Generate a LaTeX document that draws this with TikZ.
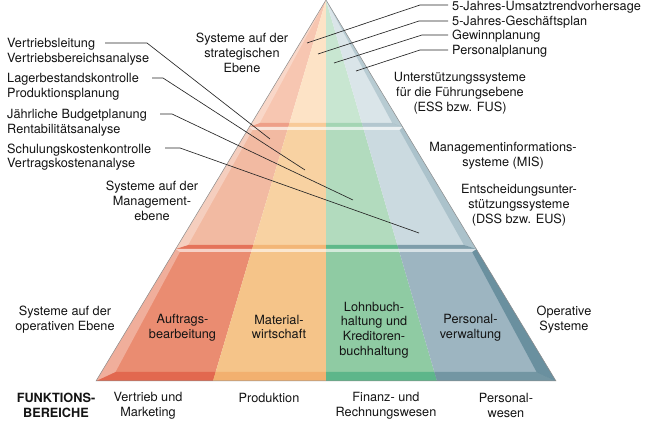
\documentclass[tikz,border=0pt]{standalone}
\usepackage{fontspec}
\setmainfont{TeX Gyre Heros}
\definecolor{sR}{HTML}{F7C6B1}
\definecolor{sO}{HTML}{FDE3C6}
\definecolor{sG}{HTML}{C8E6D1}
\definecolor{sB}{HTML}{DAE5E9}
\definecolor{sRd}{HTML}{EE9F88}
\definecolor{sOd}{HTML}{F8CA98}
\definecolor{sGd}{HTML}{A3D5B3}
\definecolor{sBd}{HTML}{B3C7CF}
\definecolor{mR}{HTML}{F2BAA2}
\definecolor{mO}{HTML}{F8D2A2}
\definecolor{mG}{HTML}{B2DBBE}
\definecolor{mB}{HTML}{CBDAE0}
\definecolor{mRd}{HTML}{E5735A}
\definecolor{mOd}{HTML}{F3B677}
\definecolor{mGd}{HTML}{5FB98A}
\definecolor{mBd}{HTML}{7E9DAA}
\definecolor{oR}{HTML}{EA8C71}
\definecolor{oO}{HTML}{F5C489}
\definecolor{oG}{HTML}{8FCBA3}
\definecolor{oB}{HTML}{9DB5C1}
\definecolor{oRd}{HTML}{E2684F}
\definecolor{oOd}{HTML}{F2B06F}
\definecolor{oGd}{HTML}{5DB68A}
\definecolor{oBd}{HTML}{7396A3}
\definecolor{bev}{HTML}{2E6577}
\definecolor{txt}{HTML}{141414}
\newcommand\lblfont{\fontsize{12.7}{14.8}\selectfont}
% #1 yt, #2 yb, #3 top highlight, #4 bottom strip, #5 bevel top, #6 bevel bottom, #7 prefix, #8 shade opacity
\newcommand\pyrlevel[8]{%
  \pgfmathsetmacro\pLoTLx{326-0.60367*#1}%
  \pgfmathsetmacro\pLoTRx{326+0.60367*#1}%
  \pgfmathsetmacro\pLyi{#1+#3}%
  \pgfmathsetmacro\pLiTLx{326-0.60367*\pLyi+#5}%
  \pgfmathsetmacro\pLiTRx{326+0.60367*\pLyi-#5}%
  \pgfmathsetmacro\pLyj{#2-#4}%
  \pgfmathsetmacro\pLiBLx{326-0.60367*\pLyj+#6}%
  \pgfmathsetmacro\pLiBRx{326+0.60367*\pLyj-#6}%
  \pgfmathsetmacro\pLoBLx{326-0.60367*#2}%
  \pgfmathsetmacro\pLoBRx{326+0.60367*#2}%
  \begin{scope}
    \clip (\pLoTLx,#1) -- (\pLoTRx,#1) -- (\pLoBRx,#2) -- (\pLoBLx,#2) -- cycle;
    \fill[#7R] (326,0) -- (213,381) -- (0,381) -- (0,0) -- cycle;
    \fill[#7O] (326,0) -- (326,381) -- (213,381) -- cycle;
    \fill[#7G] (326,0) -- (437,381) -- (326,381) -- cycle;
    \fill[#7B] (326,0) -- (649,0) -- (649,381) -- (437,381) -- cycle;
  \end{scope}
  \begin{scope}
    \clip (\pLoBLx,#2) -- (\pLoBRx,#2) -- (\pLiBRx,\pLyj) -- (\pLiBLx,\pLyj) -- cycle;
    \fill[#7Rd] (326,0) -- (213,381) -- (0,381) -- (0,0) -- cycle;
    \fill[#7Od] (326,0) -- (326,381) -- (213,381) -- cycle;
    \fill[#7Gd] (326,0) -- (437,381) -- (326,381) -- cycle;
    \fill[#7Bd] (326,0) -- (649,0) -- (649,381) -- (437,381) -- cycle;
  \end{scope}
  \fill[white, opacity=0.3] (\pLoTLx,#1) -- (\pLoBLx,#2) -- (\pLiBLx,\pLyj) -- (\pLiTLx,\pLyi) -- cycle;
  \fill[bev, opacity=#8] (\pLoTRx,#1) -- (\pLoBRx,#2) -- (\pLiBRx,\pLyj) -- (\pLiTRx,\pLyi) -- cycle;
  \fill[white, opacity=0.6] (\pLoTLx,#1) -- (\pLoTRx,#1) -- (\pLiTRx,\pLyi) -- (\pLiTLx,\pLyi) -- cycle;
}
\tikzset{
  lbl/.style={font=\lblfont, align=center, inner sep=0pt, text=txt},
  lbll/.style={font=\lblfont, align=left, inner sep=0pt, text=txt},
  leader/.style={draw=black!85, line width=0.65pt},
}
\begin{document}
\begin{tikzpicture}[x=1pt,y=-1pt]
\useasboundingbox (0,0) rectangle (649,427);
\fill[white] (0,0) rectangle (649,427);
% pyramid levels
\pyrlevel{0}{127}{0}{4}{0}{8}{s}{0.2}
\pyrlevel{127}{249}{3}{4}{5}{10}{m}{0.2}
\pyrlevel{249}{381}{3}{9}{6}{14}{o}{0.45}
\draw[black!45, line width=0.5pt] (96,381) -- (326,0) -- (556,381) -- cycle;

% left list
\node[lbll, anchor=north west] (t1) at (7,38.5) {Vertriebsleitung\\Vertriebsbereichsanalyse};
\node[lbll, anchor=north west] (t2) at (7,73.5) {Lagerbestandskontrolle\\Produktionsplanung};
\node[lbll, anchor=north west] (t3) at (7,109.5) {Jährliche Budgetplanung\\Rentabilitätsanalyse};
\node[lbll, anchor=north west] (t4) at (7,143.5) {Schulungskostenkontrolle\\Vertragskostenanalyse};

\coordinate (L1a) at (105,43);  \coordinate (L1b) at (147,43);  \coordinate (L1c) at (270,139);
\coordinate (L2a) at (152,78);  \coordinate (L2b) at (163,78);  \coordinate (L2c) at (305,170);
\coordinate (L3a) at (160,114); \coordinate (L3b) at (172,114); \coordinate (L3c) at (353,200);
\coordinate (L4a) at (165,148); \coordinate (L4b) at (180,148); \coordinate (L4c) at (419,233);
\draw[leader] (L1a) -- (L1b) -- (L1c);
\draw[leader] (L2a) -- (L2b) -- (L2c);
\draw[leader] (L3a) -- (L3b) -- (L3c);
\draw[leader] (L4a) -- (L4b) -- (L4c);

% right list
\node[lbll, anchor=west] (r1) at (452,7) {5-Jahres-Umsatztrendvorhersage};
\node[lbll, anchor=west] (r2) at (452,22) {5-Jahres-Geschäftsplan};
\node[lbll, anchor=west] (r3) at (452,36) {Gewinnplanung};
\node[lbll, anchor=west] (r4) at (452,51) {Personalplanung};
\coordinate (R1a) at (448,5);  \coordinate (R1b) at (420,5);  \coordinate (R1c) at (307,43);
\coordinate (R2a) at (448,21); \coordinate (R2b) at (419,21); \coordinate (R2c) at (318,54);
\coordinate (R3a) at (448,35); \coordinate (R3b) at (422,35); \coordinate (R3c) at (334,63);
\coordinate (R4a) at (448,50); \coordinate (R4b) at (420,50); \coordinate (R4c) at (356,71);
\draw[leader] (R1a) -- (R1b) -- (R1c);
\draw[leader] (R2a) -- (R2b) -- (R2c);
\draw[leader] (R3a) -- (R3b) -- (R3c);
\draw[leader] (R4a) -- (R4b) -- (R4c);

% level labels
\node[lbl] (strat) at (242,53) {Systeme auf der\\strategischen\\Ebene};
\node[lbl] (mgmt) at (152,201) {Systeme auf der\\Management-\\ebene};
\node[lbl] (oper) at (65,320) {Systeme auf der\\operativen Ebene};
\node[lbl] (ess) at (460,93) {Unterstützungssysteme\\für die Führungsebene\\(ESS bzw. FUS)};
\node[lbl] (mis) at (503,156) {Managementinformations-\\systeme (MIS)};
\node[lbl] (dss) at (519,205.5) {Entscheidungsunter-\\stützungssysteme\\(DSS bzw. EUS)};
\node[lbl] (opsys) at (564,320) {Operative\\Systeme};

% operative systems
\node[lbl] (auftr) at (182.5,327.5) {Auftrags-\\bearbeitung};
\node[lbl] (mat) at (279,327) {Material-\\wirtschaft};
\node[lbl] (lohn) at (374,330) {Lohnbuch-\\haltung und\\Kreditoren-\\buchhaltung};
\node[lbl] (persv) at (470.5,327.5) {Personal-\\verwaltung};

% functional areas
\node[lbl, font=\lblfont\bfseries] (funk) at (56,405.5) {FUNKTIONS-\\BEREICHE};
\node[lbl] (vm) at (148,405.5) {Vertrieb und\\Marketing};
\node[lbl] (prod) at (269,397.5) {Produktion};
\node[lbl] (fin) at (386,405.5) {Finanz- und\\Rechnungswesen};
\node[lbl] (pers) at (506,405.5) {Personal-\\wesen};
\end{tikzpicture}
\end{document}
